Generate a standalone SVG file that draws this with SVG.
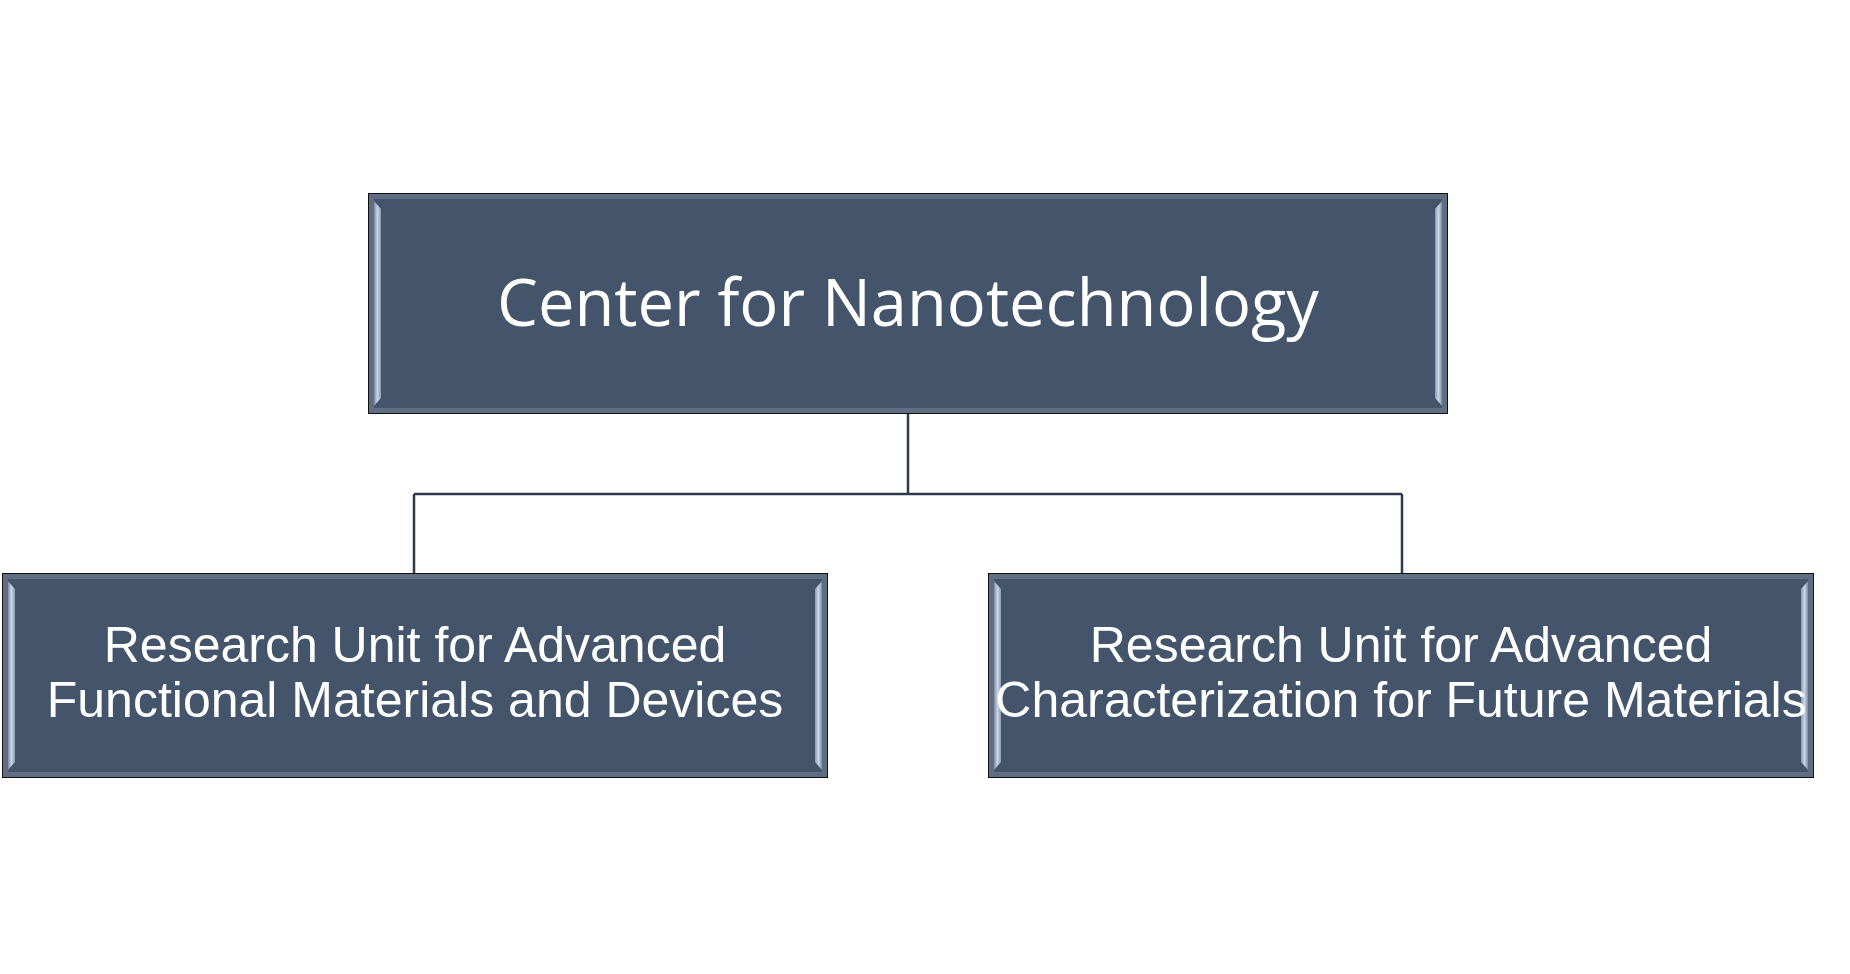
<svg xmlns="http://www.w3.org/2000/svg" width="1850" height="974" viewBox="0 0 1850 974">
<defs>
<style>
.box{fill:#44546A;stroke:#111;stroke-width:2}
.frame{fill:none;stroke:#5f6e83;stroke-width:5}
.hl{fill:url(#hlg)}
.hr{fill:url(#hrg)}
.conn{fill:none;stroke:#2f3b4d;stroke-width:2.5}
.t1{font-family:"Open Sans","Noto Sans",sans-serif;fill:#fff;text-anchor:middle}
.t2{font-family:"Liberation Sans",Arial,sans-serif;fill:#fff;text-anchor:middle}
</style>
<linearGradient id="hlg" x1="0" y1="0" x2="1" y2="0">
<stop offset="0" stop-color="#7d8ca2"/><stop offset="0.5" stop-color="#c9d6e6"/><stop offset="1" stop-color="#8a9ab0"/>
</linearGradient>
<linearGradient id="hrg" x1="0" y1="0" x2="1" y2="0">
<stop offset="0" stop-color="#8a9ab0"/><stop offset="0.5" stop-color="#c9d6e6"/><stop offset="1" stop-color="#7d8ca2"/>
</linearGradient>
</defs>
<rect width="1850" height="974" fill="#fff"/>
<g id="connectors">
<path class="conn" d="M908 413 V494 M414 494 H1402 M414 494 V574 M1402 494 V574"/>
</g>
<g id="top">
<rect class="box" x="369" y="194" width="1078" height="219"/>
<rect class="frame" x="371.5" y="196.5" width="1073" height="214"/>
<polygon class="hl" points="374,201 381,209 381,398 374,406"/>
<polygon class="hr" points="1442,201 1435,209 1435,398 1442,406"/>
<text class="t1" x="908" y="326" font-size="65">Center for Nanotechnology</text>
</g>
<g id="left">
<rect class="box" x="3" y="574" width="824" height="203"/>
<rect class="frame" x="5.5" y="576.5" width="819" height="198"/>
<polygon class="hl" points="8,581 15,589 15,762 8,770"/>
<polygon class="hr" points="822,581 815,589 815,762 822,770"/>
<text class="t2" x="415" y="662" font-size="50">Research Unit for Advanced</text>
<text class="t2" x="415" y="717" font-size="50">Functional Materials and Devices</text>
</g>
<g id="right">
<rect class="box" x="989" y="574" width="824" height="203"/>
<rect class="frame" x="991.5" y="576.5" width="819" height="198"/>
<polygon class="hl" points="994,581 1001,589 1001,762 994,770"/>
<polygon class="hr" points="1808,581 1801,589 1801,762 1808,770"/>
<text class="t2" x="1401" y="662" font-size="50">Research Unit for Advanced</text>
<text class="t2" x="1401" y="717" font-size="50">Characterization for Future Materials</text>
</g>
</svg>
